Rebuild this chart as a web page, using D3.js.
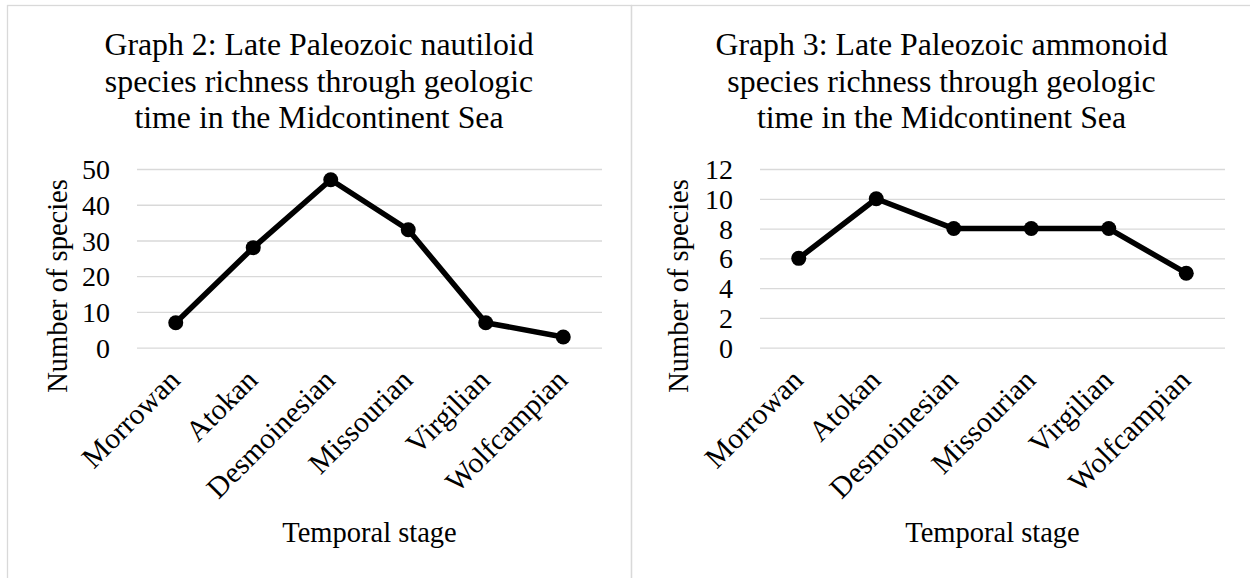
<!DOCTYPE html>
<html>
<head>
<meta charset="utf-8">
<script src="https://cdn.jsdelivr.net/npm/d3@7"></script>
<style>
  html, body { margin: 0; padding: 0; background: #fff; }
  svg { display: block; }
  text { font-family: "Liberation Serif", "Times New Roman", serif; fill: #000; }
</style>
</head>
<body>
<svg id="chart" width="1250" height="578"></svg>
<script>
const categories = ["Morrowan", "Atokan", "Desmoinesian", "Missourian", "Virgilian", "Wolfcampian"];
const nautiloidValues = [7, 28, 47, 33, 7, 3];
const ammonoidValues = [6, 10, 8, 8, 8, 5];
const nautiloidTicks = [0, 10, 20, 30, 40, 50];
const ammonoidTicks = [0, 2, 4, 6, 8, 10, 12];
const nautiloidTitle = ["Graph 2: Late Paleozoic nautiloid", "species richness through geologic", "time in the Midcontinent Sea"];
const ammonoidTitle = ["Graph 3: Late Paleozoic ammonoid", "species richness through geologic", "time in the Midcontinent Sea"];
const yAxisTitle = "Number of species";
const xAxisTitle = "Temporal stage";

const svg = d3.select("#chart");

const panels = [
  { x0: 7, x1: 631, plotL: 137, plotR: 602, titleCx: 319, yTitleX: 67,
    values: nautiloidValues, ticks: nautiloidTicks, title: nautiloidTitle },
  { x0: 631, x1: 1256, plotL: 760, plotR: 1225, titleCx: 941.5, yTitleX: 688,
    values: ammonoidValues, ticks: ammonoidTicks, title: ammonoidTitle }
];

const plotTop = 169, plotBottom = 347.7;

panels.forEach(p => {
  const g = svg.append("g");
  // panel border
  g.append("rect")
    .attr("x", p.x0 + 0.5).attr("y", 5.5)
    .attr("width", p.x1 - p.x0).attr("height", 600)
    .attr("fill", "none").attr("stroke", "#d9d9d9").attr("stroke-width", 1.3);

  const x = d3.scaleBand().domain(categories).range([p.plotL, p.plotR]);
  const y = d3.scaleLinear().domain([0, d3.max(p.ticks)]).range([plotBottom, plotTop]);
  const cx = c => x(c) + x.bandwidth() / 2;

  // gridlines via axis
  const yAxis = d3.axisLeft(y).tickValues(p.ticks)
    .tickSize(-(p.plotR - p.plotL)).tickPadding(27).tickFormat(d3.format("d"));
  const ya = g.append("g").attr("transform", `translate(${p.plotL},0)`).call(yAxis);
  ya.select(".domain").remove();
  ya.selectAll(".tick line").attr("stroke", "#d9d9d9").attr("stroke-width", 1.3);
  ya.selectAll(".tick text")
    .attr("font-size", 28).attr("font-family", "Liberation Serif, Times New Roman, serif")
    .attr("fill", "#000").attr("dy", "0.34em");

  // x axis labels
  const xAxis = d3.axisBottom(x).tickSize(0).tickPadding(0);
  const xa = g.append("g").attr("transform", `translate(0,${plotBottom})`).call(xAxis);
  xa.select(".domain").remove();
  xa.selectAll(".tick text")
    .attr("font-size", 29.5).attr("font-family", "Liberation Serif, Times New Roman, serif")
    .attr("fill", "#000")
    .attr("text-anchor", "end")
    .attr("y", 0).attr("dy", 0)
    .attr("transform", "translate(6,34) rotate(-45)");

  // line
  const line = d3.line().x((d, i) => cx(categories[i])).y(d => y(d));
  g.append("path").datum(p.values)
    .attr("d", line).attr("fill", "none")
    .attr("stroke", "#000").attr("stroke-width", 5.5)
    .attr("stroke-linejoin", "round").attr("stroke-linecap", "round");
  g.selectAll("circle.pt").data(p.values).join("circle")
    .attr("class", "pt")
    .attr("cx", (d, i) => cx(categories[i])).attr("cy", d => y(d))
    .attr("r", 7.5).attr("fill", "#000");

  // title
  g.append("text").attr("text-anchor", "middle").attr("font-size", 31.8)
    .selectAll("tspan").data(p.title).join("tspan")
    .attr("x", p.titleCx).attr("y", (d, i) => 55 + i * 36.7).text(d => d);

  // y axis title
  g.append("text").attr("text-anchor", "middle").attr("font-size", 28.5)
    .attr("transform", `translate(${p.yTitleX},286) rotate(-90)`)
    .text(yAxisTitle);

  // x axis title
  g.append("text").attr("text-anchor", "middle").attr("font-size", 28.5)
    .attr("x", (p.plotL + p.plotR) / 2).attr("y", 542)
    .text(xAxisTitle);
});
</script>
</body>
</html>
